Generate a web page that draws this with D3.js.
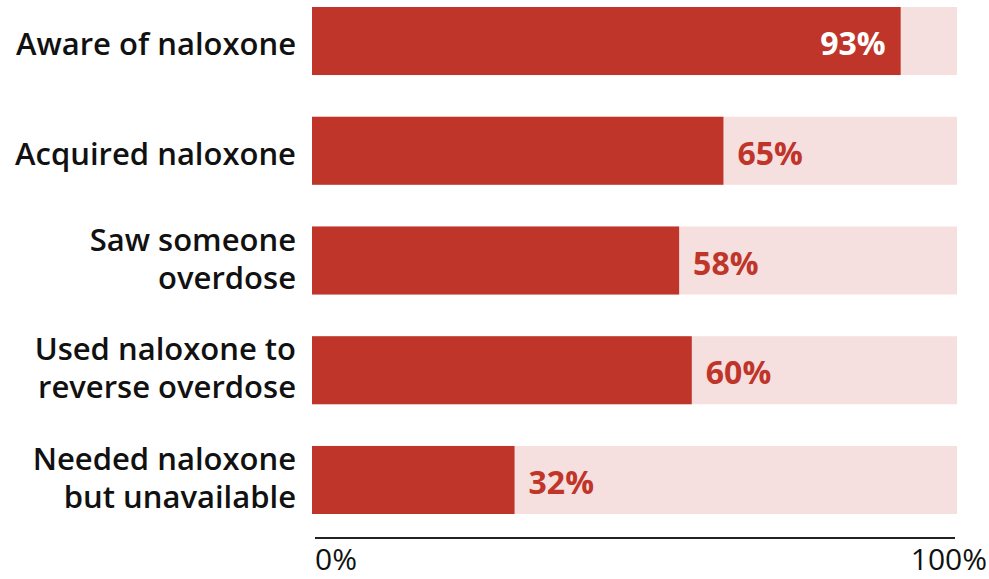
<!DOCTYPE html>
<html><head><meta charset="utf-8">
<script src="https://cdn.jsdelivr.net/npm/d3@7"></script>
<style>html,body{margin:0;padding:0;background:#fff;}svg{display:block;}</style>
</head><body><svg id="chart" width="989" height="579"></svg>
<script>
const categories = [
  ["Aware of naloxone"],
  ["Acquired naloxone"],
  ["Saw someone", "overdose"],
  ["Used naloxone to", "reverse overdose"],
  ["Needed naloxone", "but unavailable"]
];
const values = [93, 65, 58, 60, 32];
const valueLabels = ["93%", "65%", "58%", "60%", "32%"];
const tickLabels = ["0%", "100%"];

const FONT = "'Open Sans', sans-serif";
const svg = d3.select("#chart");
const x = d3.scaleLinear().domain([0, 101.9]).range([312, 957]);
const y = d3.scaleBand().domain(d3.range(categories.length)).range([7, 514]).paddingInner(0.38).paddingOuter(0);

const g = svg.append("g");
const rows = g.selectAll("g.row").data(values).join("g").attr("class", "row");

rows.append("rect")
  .attr("x", x(0)).attr("y", (d, i) => y(i))
  .attr("width", x(101.9) - x(0)).attr("height", y.bandwidth())
  .attr("fill", "#f5dfdf");
rows.append("rect")
  .attr("x", x(0)).attr("y", (d, i) => y(i))
  .attr("width", d => x(d) - x(0)).attr("height", y.bandwidth())
  .attr("fill", "#c0352a");

rows.append("text")
  .attr("x", d => d > 80 ? x(d) - 15 : x(d) + 14)
  .attr("y", (d, i) => y(i) + y.bandwidth() / 2 + 14)
  .attr("text-anchor", d => d > 80 ? "end" : "start")
  .attr("fill", d => d > 80 ? "#ffffff" : "#c0352a")
  .style("font-family", FONT).style("font-weight", 700).style("font-size", "32px")
  .text((d, i) => valueLabels[i]);

const labels = g.selectAll("text.cat").data(categories).join("text").attr("class", "cat")
  .attr("text-anchor", "end")
  .style("font-family", FONT).style("font-weight", 600).style("font-size", "31px")
  .attr("fill", "#111");
labels.each(function(lines, i) {
  const t = d3.select(this);
  const c = y(i) + y.bandwidth() / 2;
  const start = lines.length === 1 ? c + 14 : c - 10;
  lines.forEach((ln, j) => {
    t.append("tspan").attr("x", 296).attr("y", start + j * 38).text(ln);
  });
});

svg.append("line").attr("x1", 315).attr("x2", 955).attr("y1", 538).attr("y2", 538)
  .attr("stroke", "#222").attr("stroke-width", 2);

svg.selectAll("text.tick").data(tickLabels).join("text").attr("class", "tick")
  .attr("x", (d, i) => i === 0 ? x(0) + 3 : 987)
  .attr("y", 570)
  .attr("text-anchor", (d, i) => i === 0 ? "start" : "end")
  .style("font-family", FONT).style("font-weight", 400).style("font-size", "30px")
  .attr("fill", "#111")
  .text(d => d);
</script></body></html>
